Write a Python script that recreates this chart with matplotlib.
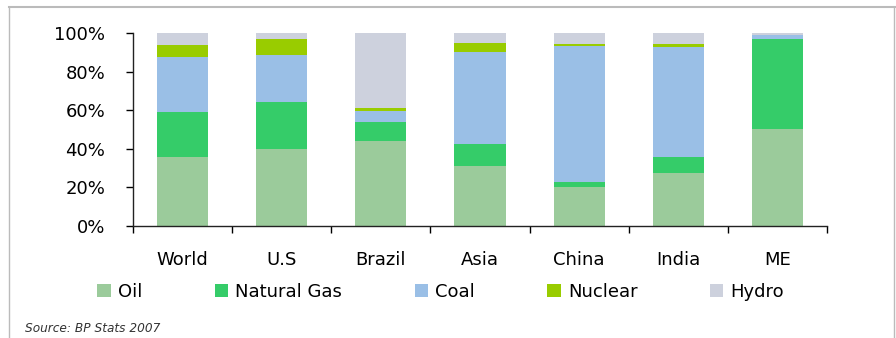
import numpy as np
import matplotlib.pyplot as plt
from matplotlib.lines import Line2D

regions = ['World', 'U.S', 'Brazil', 'Asia', 'China', 'India', 'ME']
oil = [36, 40, 44, 31, 20, 27.5, 50]
gas = [23, 24, 10, 11.5, 3, 8.5, 47]
coal = [28.5, 24.5, 5.5, 47.5, 70.5, 56.5, 2]
nuclear = [6.5, 8.5, 1.5, 5, 1, 2, 0]
hydro = [6, 3, 39, 5, 5.5, 5.5, 1]

names = ['Oil', 'Natural Gas', 'Coal', 'Nuclear', 'Hydro']
colors = ['#9BCB9B', '#35CC69', '#9ABFE6', '#99CC00', '#CDD1DD']

fig = plt.figure(figsize=(8.96, 3.38), dpi=100)
ax = fig.add_axes([0.1484, 0.3314, 0.7746, 0.571])

x = np.arange(len(regions))
bottom = np.zeros(len(regions))
for vals, name, c in zip([oil, gas, coal, nuclear, hydro], names, colors):
    ax.bar(x, vals, width=0.515, bottom=bottom, color=c, label=name)
    bottom += np.array(vals)

ax.set_xlim(-0.5, 6.5)
ax.set_ylim(0, 100)
ax.set_yticks([0, 20, 40, 60, 80, 100])
ax.set_yticklabels(['0%', '20%', '40%', '60%', '80%', '100%'])
ax.set_xticks(x)
ax.set_xticklabels(regions)
ax.set_xticks(np.arange(-0.5, 7, 1), minor=True)
ax.tick_params(axis='x', which='major', length=0, pad=18, labelsize=13)
ax.tick_params(axis='x', which='minor', length=5, width=1)
ax.tick_params(axis='y', length=5, width=1, pad=15, labelsize=13)
for s in ['top', 'right']:
    ax.spines[s].set_visible(False)
for s in ['left', 'bottom']:
    ax.spines[s].set_color('#222222')
    ax.spines[s].set_linewidth(1)

fig.legend(loc='center', bbox_to_anchor=(0.492, 0.136), ncol=5, frameon=False,
           fontsize=13, handlelength=0.75, handleheight=0.75,
           columnspacing=4.0, handletextpad=0.4)

fig.text(0.028, 0.018, 'Source: BP Stats 2007', fontsize=8.7, style='italic', color='#333333')

# panel frame
fig.add_artist(Line2D([0.01, 0.999], [0.979, 0.979], color='#BBBBBB', lw=1.5, transform=fig.transFigure))
fig.add_artist(Line2D([0.01, 0.01], [0, 0.979], color='#BBBBBB', lw=1, transform=fig.transFigure))
fig.add_artist(Line2D([0.998, 0.998], [0, 0.979], color='#BBBBBB', lw=1, transform=fig.transFigure))

fig.savefig('out.png', dpi=100)
